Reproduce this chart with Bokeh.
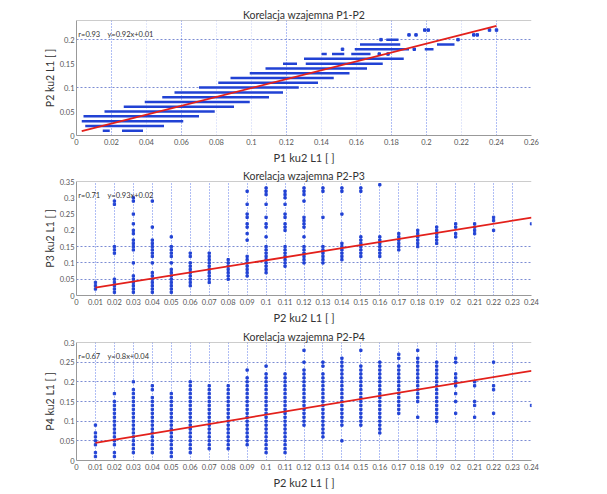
from bokeh.plotting import figure
from bokeh.layouts import column, row
from bokeh.models import FixedTicker, PrintfTickFormatter, Span, Label, ColumnDataSource, Range1d, Grid, Spacer
from bokeh.embed import file_html
from bokeh.resources import INLINE

# ---------------- DATA ----------------
# Chart 1: P1 vs P2 - dense horizontal bands (row y, x start, x end) and isolated points
band_y  = [0.01, 0.01, 0.02, 0.03, 0.04, 0.05, 0.06, 0.07, 0.08, 0.09, 0.10, 0.11, 0.12, 0.13, 0.14,
           0.15, 0.15, 0.16, 0.17, 0.17, 0.17, 0.18, 0.18, 0.19, 0.19, 0.20]
band_x0 = [0.015, 0.026, 0.005, 0.003, 0.004, 0.016, 0.027, 0.039, 0.049, 0.056, 0.070, 0.081, 0.088, 0.099, 0.108,
           0.118, 0.131, 0.130, 0.140, 0.146, 0.157, 0.159, 0.199, 0.162, 0.206, 0.177]
band_x1 = [0.019, 0.038, 0.050, 0.061, 0.070, 0.079, 0.090, 0.099, 0.110, 0.118, 0.127, 0.138, 0.147, 0.156, 0.166,
           0.126, 0.175, 0.187, 0.143, 0.153, 0.168, 0.190, 0.204, 0.185, 0.216, 0.184]
iso_x = [0.152, 0.193, 0.173, 0.174, 0.178, 0.218, 0.190, 0.194, 0.227, 0.229, 0.199, 0.201, 0.236, 0.240]
iso_y = [0.18, 0.18, 0.17, 0.20, 0.17, 0.20, 0.21, 0.21, 0.21, 0.21, 0.22, 0.22, 0.22, 0.22]
fit1_x = [0.003, 0.240]
fit1_y = [0.009, 0.229]

# Chart 2: P2 vs P3 - values per P2 column
p2_cols = [0.01, 0.02, 0.03, 0.04, 0.05, 0.06, 0.07, 0.08, 0.09, 0.10, 0.11, 0.12,
           0.13, 0.14, 0.15, 0.16, 0.17, 0.18, 0.19, 0.20, 0.21, 0.22, 0.24]
p3_vals = [
    [0.04, 0.03, 0.02],
    [0.29, 0.28, 0.15, 0.14, 0.13, 0.05, 0.04, 0.03, 0.02, 0.01],
    [0.30, 0.29, 0.25, 0.22, 0.20, 0.19, 0.17, 0.16, 0.15, 0.14, 0.10, 0.06, 0.05, 0.04, 0.03, 0.02, 0.01],
    [0.29, 0.21, 0.17, 0.16, 0.15, 0.14, 0.13, 0.12, 0.10, 0.07, 0.06, 0.05, 0.04, 0.03, 0.02, 0.01],
    [0.18, 0.15, 0.14, 0.13, 0.12, 0.10, 0.08, 0.07, 0.06, 0.05, 0.04, 0.03, 0.02, 0.01],
    [0.13, 0.12, 0.10, 0.09, 0.08, 0.07, 0.06, 0.05, 0.04, 0.03],
    [0.13, 0.12, 0.11, 0.10, 0.09, 0.08, 0.07, 0.06, 0.05, 0.04],
    [0.11, 0.10, 0.09, 0.08, 0.07, 0.06, 0.05],
    [0.32, 0.28, 0.25, 0.24, 0.22, 0.21, 0.19, 0.17, 0.12, 0.11, 0.10, 0.09, 0.08, 0.07, 0.06],
    [0.33, 0.32, 0.31, 0.28, 0.24, 0.22, 0.21, 0.18, 0.15, 0.14, 0.13, 0.12, 0.11, 0.10, 0.09, 0.08, 0.07],
    [0.32, 0.31, 0.30, 0.28, 0.25, 0.24, 0.22, 0.21, 0.20, 0.15, 0.14, 0.13, 0.12, 0.11, 0.10, 0.09],
    [0.33, 0.32, 0.31, 0.29, 0.24, 0.23, 0.22, 0.21, 0.18, 0.15, 0.14, 0.13, 0.12, 0.11, 0.10],
    [0.33, 0.32, 0.24, 0.15, 0.14, 0.13, 0.12, 0.11, 0.10],
    [0.33, 0.32, 0.25, 0.16, 0.15, 0.14, 0.13, 0.12, 0.11],
    [0.33, 0.32, 0.18, 0.17, 0.16, 0.15, 0.14, 0.13, 0.12],
    [0.34, 0.18, 0.17, 0.16, 0.15, 0.14, 0.13, 0.12],
    [0.19, 0.18, 0.17, 0.16, 0.15, 0.14],
    [0.20, 0.19, 0.18, 0.17, 0.16, 0.15],
    [0.21, 0.20, 0.19, 0.18, 0.17, 0.16],
    [0.22, 0.21, 0.19, 0.18],
    [0.22, 0.21, 0.20, 0.19],
    [0.24, 0.23, 0.20],
    [0.22],
]
fit2_x = [0.01, 0.24]
fit2_y = [0.024, 0.239]

# Chart 3: P2 vs P4 - values per P2 column
p4_vals = [
    [0.09, 0.07, 0.06, 0.05, 0.04, 0.02, 0.01],
    [0.17, 0.15, 0.14, 0.13, 0.12, 0.11, 0.10, 0.09, 0.08, 0.07, 0.06, 0.05, 0.04, 0.02, 0.01],
    [0.20, 0.18, 0.17, 0.16, 0.15, 0.14, 0.13, 0.12, 0.11, 0.10, 0.09, 0.08, 0.07, 0.06, 0.05, 0.04, 0.03, 0.02],
    [0.19, 0.18, 0.16, 0.15, 0.14, 0.13, 0.12, 0.11, 0.10, 0.09, 0.08, 0.07, 0.06, 0.05, 0.04, 0.03, 0.02],
    [0.17, 0.16, 0.15, 0.14, 0.13, 0.12, 0.11, 0.10, 0.09, 0.08, 0.07, 0.06, 0.05, 0.04, 0.03, 0.02, 0.01],
    [0.20, 0.19, 0.18, 0.17, 0.16, 0.15, 0.14, 0.13, 0.12, 0.11, 0.10, 0.09, 0.08, 0.07, 0.06, 0.05, 0.04, 0.03, 0.02],
    [0.19, 0.18, 0.17, 0.16, 0.15, 0.14, 0.13, 0.12, 0.11, 0.10, 0.09, 0.08, 0.07, 0.06, 0.05, 0.04, 0.03],
    [0.19, 0.18, 0.17, 0.16, 0.15, 0.14, 0.13, 0.12, 0.11, 0.10, 0.09, 0.08, 0.07, 0.06, 0.05, 0.04, 0.03],
    [0.23, 0.21, 0.20, 0.19, 0.18, 0.17, 0.16, 0.15, 0.14, 0.13, 0.12, 0.11, 0.10, 0.09, 0.08, 0.07, 0.06, 0.05, 0.04],
    [0.24, 0.22, 0.21, 0.20, 0.19, 0.18, 0.17, 0.16, 0.15, 0.14, 0.13, 0.12, 0.11, 0.10, 0.09, 0.08, 0.07, 0.06, 0.05, 0.04, 0.03, 0.02],
    [0.22, 0.21, 0.20, 0.19, 0.18, 0.17, 0.16, 0.15, 0.14, 0.13, 0.12, 0.11, 0.10, 0.09, 0.08, 0.07, 0.06, 0.05, 0.04, 0.03, 0.02],
    [0.28, 0.25, 0.23, 0.22, 0.21, 0.20, 0.19, 0.18, 0.17, 0.16, 0.15, 0.14, 0.13, 0.12, 0.11, 0.10, 0.09],
    [0.25, 0.24, 0.22, 0.21, 0.20, 0.19, 0.18, 0.17, 0.16, 0.15, 0.14, 0.13, 0.12, 0.11, 0.10, 0.09, 0.08, 0.07, 0.06],
    [0.26, 0.25, 0.24, 0.23, 0.22, 0.21, 0.20, 0.19, 0.18, 0.17, 0.16, 0.15, 0.14, 0.13, 0.12, 0.11, 0.10, 0.09, 0.05],
    [0.28, 0.24, 0.23, 0.22, 0.21, 0.20, 0.19, 0.18, 0.17, 0.16, 0.15, 0.14, 0.13, 0.12, 0.11, 0.10, 0.09],
    [0.25, 0.24, 0.23, 0.22, 0.21, 0.20, 0.19, 0.18, 0.17, 0.16, 0.15, 0.14, 0.13, 0.12, 0.11, 0.10, 0.09, 0.08, 0.07],
    [0.27, 0.26, 0.24, 0.23, 0.22, 0.21, 0.20, 0.19, 0.18, 0.17, 0.16, 0.15, 0.14, 0.13, 0.12],
    [0.28, 0.26, 0.25, 0.24, 0.23, 0.22, 0.21, 0.20, 0.19, 0.18, 0.17, 0.16, 0.15, 0.11],
    [0.25, 0.24, 0.23, 0.22, 0.21, 0.20, 0.19, 0.18, 0.17, 0.16, 0.15, 0.14, 0.13, 0.12, 0.11, 0.10],
    [0.26, 0.25, 0.22, 0.21, 0.20, 0.19, 0.17, 0.15, 0.12],
    [0.20, 0.19, 0.15, 0.14, 0.11],
    [0.25, 0.19, 0.18, 0.12],
    [0.14],
]
fit3_x = [0.01, 0.24]
fit3_y = [0.045, 0.228]

# Tick values
x_ticks_1 = [0, 0.02, 0.04, 0.06, 0.08, 0.1, 0.12, 0.14, 0.16, 0.18, 0.2, 0.22, 0.24, 0.26]
y_ticks_1 = [0, 0.05, 0.1, 0.15, 0.2]
x_grid_1_strong = [0.02, 0.06, 0.12, 0.18, 0.2, 0.24]
x_grid_1_faint = [0.04, 0.08, 0.1, 0.14, 0.16, 0.22]
y_grid_1 = [0.1, 0.2]
x_ticks_2 = [0, 0.01, 0.02, 0.03, 0.04, 0.05, 0.06, 0.07, 0.08, 0.09, 0.1, 0.11, 0.12,
             0.13, 0.14, 0.15, 0.16, 0.17, 0.18, 0.19, 0.2, 0.21, 0.22, 0.23, 0.24]
x_grid_2 = x_ticks_2[1:]
y_ticks_2 = [0, 0.05, 0.1, 0.15, 0.2, 0.25, 0.3, 0.35]
y_grid_2 = [0.05, 0.1, 0.15]
y_ticks_3 = [0, 0.05, 0.1, 0.15, 0.2, 0.25, 0.3]
y_grid_3 = [0.05, 0.1, 0.15, 0.2, 0.25]

titles = ["Korelacja wzajemna P1-P2", "Korelacja wzajemna P2-P3", "Korelacja wzajemna P2-P4"]
x_labels = ["P1 ku2 L1 [ ]", "P2 ku2 L1 [ ]", "P2 ku2 L1 [ ]"]
y_labels = ["P2 ku2 L1 [ ]", "P3 ku2 L1 [ ]", "P4 ku2 L1 [ ]"]
stats_r = ["r=0.93", "r=0.71", "r=0.67"]
stats_eq = ["y=0.92x+0.01", "y=0.93x+0.02", "y=0.8x+0.04"]

# ---------------- STYLE ----------------
FONT = "Lato"
BLUE = "#2142d4"
RED = "#e3201b"
GRID = "#3a5ee6"
LEFT_PAD = 40
FIG_W = 563


def make_fig(h, top, bottom, xmax, ymax, xticks, yticks, xgrid, ygrid, title, xl, yl, r_txt, eq_txt):
    p = figure(width=FIG_W, height=h, output_backend="svg", toolbar_location=None,
               x_range=Range1d(0, xmax), y_range=Range1d(0, ymax),
               min_border_left=76 - LEFT_PAD, min_border_right=FIG_W + LEFT_PAD - 531,
               min_border_top=top, min_border_bottom=bottom,
               background_fill_color="white", border_fill_color="white")
    p.outline_line_color = None
    p.title.text = title
    p.title.align = "center"
    p.title.text_font = FONT
    p.title.text_font_size = "10.5px"
    p.title.text_font_style = "normal"
    p.title.text_color = "#333333"
    p.title.standoff = 0
    for ax, ticks in ((p.xaxis[0], xticks), (p.yaxis[0], yticks)):
        ax.ticker = FixedTicker(ticks=ticks)
        ax.formatter = PrintfTickFormatter(format="%g")
        ax.major_label_text_font = FONT
        ax.major_label_text_font_size = "7.5px"
        ax.major_label_text_color = "#555555"
        ax.axis_line_color = "#999999"
        ax.major_tick_line_color = "#999999"
        ax.major_tick_out = 0
        ax.major_tick_in = 0
        ax.minor_tick_line_color = None
        ax.axis_label_text_font = FONT
        ax.axis_label_text_font_size = "11px"
        ax.axis_label_text_font_style = "normal"
        ax.axis_label_text_color = "#333333"
        ax.major_label_standoff = 3
        ax.axis_label_standoff = 3
    p.yaxis.major_label_standoff = 2
    p.yaxis.axis_label_standoff = 1
    p.yaxis.axis_label_text_font_size = "10.5px"
    p.xaxis.axis_label = xl
    p.yaxis.axis_label = yl
    p.xgrid.ticker = FixedTicker(ticks=xgrid)
    p.ygrid.ticker = FixedTicker(ticks=ygrid)
    p.xgrid.grid_line_color = GRID
    p.xgrid.grid_line_dash = "1 2"
    p.xgrid.grid_line_alpha = 0.8
    p.ygrid.grid_line_color = "#5a6fc8"
    p.ygrid.grid_line_dash = "2 2"
    p.ygrid.grid_line_alpha = 0.8
    p.add_layout(Span(location=ymax, dimension="width", line_color="#999999", line_width=1))
    p.add_layout(Label(x=xmax * 0.004, y=ymax * 0.88, text=r_txt, text_font=FONT,
                       text_font_size="7.5px", text_color="#333333", text_baseline="middle"))
    p.add_layout(Label(x=xmax * 0.068, y=ymax * 0.88, text=eq_txt, text_font=FONT,
                       text_font_size="7.5px", text_color="#333333", text_baseline="middle"))
    return p


# Chart 1
p1 = make_fig(166, 20, 30, 0.26, 0.24, x_ticks_1, y_ticks_1, x_grid_1_strong, y_grid_1,
              titles[0], x_labels[0], y_labels[0], stats_r[0], stats_eq[0])
faint = Grid(dimension=0, ticker=FixedTicker(ticks=x_grid_1_faint), grid_line_color=GRID,
             grid_line_dash="1 2", grid_line_alpha=0.3)
p1.add_layout(faint)
band_src = ColumnDataSource(dict(x0=band_x0, x1=band_x1, y=band_y))
p1.segment(x0="x0", y0="y", x1="x1", y1="y", source=band_src, line_color=BLUE, line_width=2.5, line_cap="butt")
p1.scatter(iso_x, iso_y, marker="square", size=2.5, color=BLUE)
p1.line(fit1_x, fit1_y, line_color=RED, line_width=1.8)

# Chart 2
xs2, ys2 = [], []
for xc, vals in zip(p2_cols, p3_vals):
    for v in vals:
        xs2.append(xc)
        ys2.append(v)
p2 = make_fig(160, 15, 30, 0.24, 0.35, x_ticks_2, y_ticks_2, x_grid_2, y_grid_2,
              titles[1], x_labels[1], y_labels[1], stats_r[1], stats_eq[1])
p2.scatter(xs2, ys2, marker="square", size=2.3, color=BLUE)
p2.line(fit2_x, fit2_y, line_color=RED, line_width=1.8)

# Chart 3
xs3, ys3 = [], []
for xc, vals in zip(p2_cols, p4_vals):
    for v in vals:
        xs3.append(xc)
        ys3.append(v)
p3 = make_fig(165, 16, 30, 0.24, 0.30, x_ticks_2, y_ticks_3, x_grid_2, y_grid_3,
              titles[2], x_labels[2], y_labels[2], stats_r[2], stats_eq[2])
p3.scatter(xs3, ys3, marker="square", size=2.3, color=BLUE)
p3.line(fit3_x, fit3_y, line_color=RED, line_width=1.8)

layout = column(
    row(Spacer(width=LEFT_PAD, height=166), p1, spacing=0),
    row(Spacer(width=LEFT_PAD, height=160), p2, spacing=0),
    row(Spacer(width=LEFT_PAD, height=165), p3, spacing=0),
    spacing=0,
)
open("out.html", "w").write(file_html(layout, INLINE))
